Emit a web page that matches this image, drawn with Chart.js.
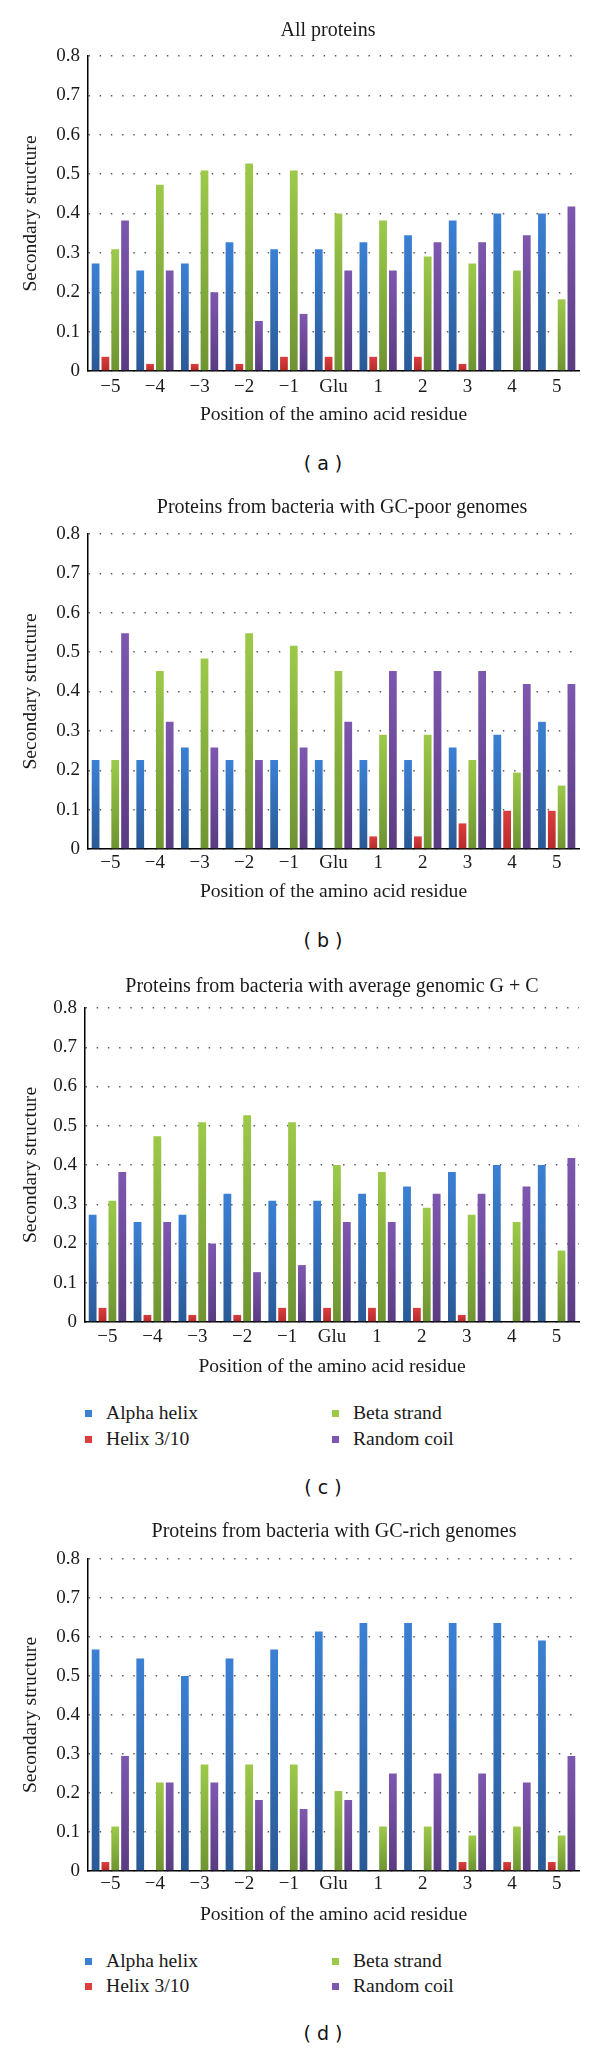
<!DOCTYPE html>
<html>
<head>
<meta charset="utf-8">
<script src="https://cdn.jsdelivr.net/npm/chart.js@4.4.1/dist/chart.umd.min.js"></script>
<style>
  html, body { margin: 0; padding: 0; background: #ffffff; }
  body { width: 600px; height: 2049px; position: relative; overflow: hidden; }
  canvas { position: absolute; left: 0; }
  .letter { position: absolute; left: 273px; width: 100px; text-align: center;
            font-family: "DejaVu Sans", sans-serif; font-size: 19px; color: #111;
            transform: translateY(-50%); white-space: pre; line-height: 1; }
  .leg { position: absolute; font-family: "Liberation Serif", serif; font-size: 19.6px; color: #1a1a1a;
         transform: translateY(-50%); white-space: nowrap; line-height: 1; }
  .sq { position: absolute; width: 7px; height: 7px; }
</style>
</head>
<body>
<canvas id="cA"></canvas>
<canvas id="cB"></canvas>
<canvas id="cC"></canvas>
<canvas id="cD"></canvas>
<script>
// ---------- data ----------
const categories = ['\u22125', '\u22124', '\u22123', '\u22122', '\u22121', 'Glu', '1', '2', '3', '4', '5'];
const seriesNames = ['Alpha helix', 'Helix 3/10', 'Beta strand', 'Random coil'];
const yMin = 0;
const yMax = 0.8;
const yStep = 0.1;
const panelTitles = [
  'All proteins',
  'Proteins from bacteria with GC-poor genomes',
  'Proteins from bacteria with average genomic G + C',
  'Proteins from bacteria with GC-rich genomes'
];
const panelLetters = ['( a )', '( b )', '( c )', '( d )'];
const xTitle = 'Position of the amino acid residue';
const yTitle = 'Secondary structure';

// (a) All proteins
const allAlpha  = [0.273, 0.255, 0.273, 0.327, 0.309, 0.309, 0.327, 0.345, 0.382, 0.400, 0.400];
const allHelix  = [0.036, 0.018, 0.018, 0.018, 0.036, 0.036, 0.036, 0.036, 0.018, 0.000, 0.000];
const allBeta   = [0.309, 0.473, 0.509, 0.527, 0.509, 0.400, 0.382, 0.291, 0.273, 0.255, 0.182];
const allCoil   = [0.382, 0.255, 0.200, 0.127, 0.145, 0.255, 0.255, 0.327, 0.327, 0.345, 0.418];

// (b) GC-poor genomes
const poorAlpha = [0.226, 0.226, 0.258, 0.226, 0.226, 0.226, 0.226, 0.226, 0.258, 0.290, 0.323];
const poorHelix = [0.000, 0.000, 0.000, 0.000, 0.000, 0.000, 0.032, 0.032, 0.065, 0.097, 0.097];
const poorBeta  = [0.226, 0.452, 0.484, 0.548, 0.516, 0.452, 0.290, 0.290, 0.226, 0.194, 0.161];
const poorCoil  = [0.548, 0.323, 0.258, 0.226, 0.258, 0.323, 0.452, 0.452, 0.452, 0.419, 0.419];

// (c) average genomic G + C
const avgAlpha  = [0.273, 0.255, 0.273, 0.327, 0.309, 0.309, 0.327, 0.345, 0.382, 0.400, 0.400];
const avgHelix  = [0.036, 0.018, 0.018, 0.018, 0.036, 0.036, 0.036, 0.036, 0.018, 0.000, 0.000];
const avgBeta   = [0.309, 0.473, 0.509, 0.527, 0.509, 0.400, 0.382, 0.291, 0.273, 0.255, 0.182];
const avgCoil   = [0.382, 0.255, 0.200, 0.127, 0.145, 0.255, 0.255, 0.327, 0.327, 0.345, 0.418];

// (d) GC-rich genomes
const richAlpha = [0.568, 0.545, 0.500, 0.545, 0.568, 0.614, 0.636, 0.636, 0.636, 0.636, 0.591];
const richHelix = [0.023, 0.000, 0.000, 0.000, 0.000, 0.000, 0.000, 0.000, 0.023, 0.023, 0.023];
const richBeta  = [0.114, 0.227, 0.273, 0.273, 0.273, 0.205, 0.114, 0.114, 0.091, 0.114, 0.091];
const richCoil  = [0.295, 0.227, 0.227, 0.182, 0.159, 0.182, 0.250, 0.250, 0.250, 0.227, 0.295];

// ---------- styling ----------
const seriesColors = [
  ['#3b80d4', '#2a5a96'],
  ['#dc3d3d', '#b52b2b'],
  ['#9dc94a', '#6e9432'],
  ['#7e57af', '#5a3c82']
];
const SERIF = '"Liberation Serif", "Times New Roman", serif';
const TEXT = '#1a1a1a';
const titleSize = 20, tickSize = 19, axisTitleSize = 19.6;

function barGradient(c1, c2) {
  return function (ctx) {
    const chart = ctx.chart;
    const area = chart.chartArea;
    if (!area || ctx.type !== 'data' || !chart.scales.y) return c1;
    const yTop = chart.scales.y.getPixelForValue(ctx.raw);
    if (area.bottom - yTop < 1) return c1;
    const g = chart.ctx.createLinearGradient(0, yTop, 0, area.bottom);
    g.addColorStop(0, c1);
    g.addColorStop(1, c2);
    return g;
  };
}

// chart title drawn centred over the plot (like the original figure)
const panelTitlePlugin = {
  id: 'panelTitle',
  afterDraw: function (chart, args, opts) {
    const ctx = chart.ctx;
    ctx.save();
    ctx.font = 'normal ' + titleSize + 'px ' + SERIF;
    ctx.fillStyle = TEXT;
    ctx.textAlign = 'center';
    ctx.textBaseline = 'middle';
    ctx.fillText(opts.text, opts.x, opts.y);
    ctx.restore();
  }
};

// geometry of each panel (page pixels)
const panels = [
  { id: 'cA', values: [allAlpha, allHelix, allBeta, allCoil],     titleX: 328, titleY: 31,   plotLeft: 88, plotTop: 56,   plotBottom: 371,  tickY: 387,  xTitleY: 415,  letterY: 463,  legend: null },
  { id: 'cB', values: [poorAlpha, poorHelix, poorBeta, poorCoil], titleX: 342, titleY: 508,  plotLeft: 88, plotTop: 534,  plotBottom: 849,  tickY: 863,  xTitleY: 892,  letterY: 940,  legend: null },
  { id: 'cC', values: [avgAlpha, avgHelix, avgBeta, avgCoil],     titleX: 332, titleY: 987,  plotLeft: 85, plotTop: 1008, plotBottom: 1322, tickY: 1337, xTitleY: 1367, letterY: 1487, legend: [1413, 1439] },
  { id: 'cD', values: [richAlpha, richHelix, richBeta, richCoil], titleX: 334, titleY: 1532, plotLeft: 88, plotTop: 1559, plotBottom: 1871, tickY: 1884, xTitleY: 1915, letterY: 2033, legend: [1961, 1986] }
];
const plotRight = 579;

panels.forEach(function (p, idx) {
  const Y0 = p.titleY - 22;
  const H = p.xTitleY - Y0 + 16;
  const canvas = document.getElementById(p.id);
  canvas.width = 600;
  canvas.height = H;
  canvas.style.top = Y0 + 'px';
  canvas.style.width = '600px';
  canvas.style.height = H + 'px';

  const xScaleH = H - (p.plotBottom - Y0);
  const xTitlePadBottom = H - (p.xTitleY - Y0) - (axisTitleSize * 1.2) / 2;
  const xTickPad = p.tickY - p.plotBottom - (tickSize * 1.2) / 2;

  new Chart(canvas, {
    type: 'bar',
    data: {
      labels: categories,
      datasets: seriesNames.map(function (name, i) {
        return {
          label: name,
          data: p.values[i],
          backgroundColor: barGradient(seriesColors[i][0], seriesColors[i][1]),
          borderWidth: 0,
          categoryPercentage: 0.88,
          barPercentage: 0.79
        };
      })
    },
    plugins: [panelTitlePlugin],
    options: {
      responsive: false,
      animation: false,
      devicePixelRatio: 1,
      layout: { padding: { left: 0, right: 600 - plotRight, top: p.plotTop - Y0, bottom: 0 } },
      plugins: {
        legend: { display: false },
        tooltip: { enabled: false },
        title: { display: false },
        panelTitle: { text: panelTitles[idx], x: p.titleX, y: p.titleY - Y0 }
      },
      scales: {
        x: {
          grid: { display: false, drawTicks: false },
          border: { display: true, color: '#000', width: 1.5 },
          ticks: { color: TEXT, padding: xTickPad, font: { family: SERIF, size: tickSize }, maxRotation: 0, autoSkip: false },
          title: {
            display: true, text: xTitle, color: TEXT,
            font: { family: SERIF, size: axisTitleSize },
            padding: { top: 0, bottom: xTitlePadBottom }
          },
          afterFit: function (scale) { scale.height = xScaleH; }
        },
        y: {
          min: yMin, max: yMax,
          grid: { color: '#555', lineWidth: 1.4, drawTicks: false },
          border: { display: true, color: '#000', width: 1.5, dash: [1.4, 9.8] },
          ticks: {
            stepSize: yStep, color: TEXT, padding: 8,
            font: { family: SERIF, size: tickSize },
            callback: function (v) { const r = Math.round(v * 10) / 10; return r === 0 ? '0' : r.toFixed(1); }
          },
          title: {
            display: true, text: yTitle, color: TEXT,
            font: { family: SERIF, size: axisTitleSize },
            padding: { top: 31 - (axisTitleSize * 1.2) / 2, bottom: 0 }
          },
          afterFit: function (scale) { scale.width = p.plotLeft; }
        }
      }
    }
  });

  // panel letter
  const lt = document.createElement('div');
  lt.className = 'letter';
  lt.style.top = p.letterY + 'px';
  lt.textContent = panelLetters[idx];
  document.body.appendChild(lt);

  // legend (two columns: Alpha/Beta on first row, Helix/Random on second)
  if (p.legend) {
    const cols = [[0, 85, 106], [2, 332, 353], [1, 85, 106], [3, 332, 353]];
    cols.forEach(function (c, k) {
      const rowY = p.legend[k < 2 ? 0 : 1];
      const sq = document.createElement('div');
      sq.className = 'sq';
      sq.style.left = c[1] + 'px';
      sq.style.top = (rowY - 3.5) + 'px';
      sq.style.background = seriesColors[c[0]][0];
      document.body.appendChild(sq);
      const tx = document.createElement('div');
      tx.className = 'leg';
      tx.style.left = c[2] + 'px';
      tx.style.top = rowY + 'px';
      tx.textContent = seriesNames[c[0]];
      document.body.appendChild(tx);
    });
  }
});
</script>
</body>
</html>
